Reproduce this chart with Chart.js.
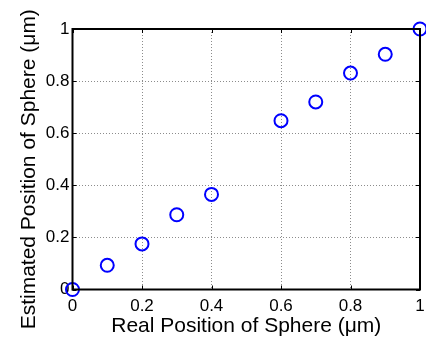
<!DOCTYPE html>
<html lang="en">
<head>
  <meta charset="UTF-8" />
  <title>Estimated vs Real Position</title>
  <script src="https://cdn.jsdelivr.net/npm/chart.js"></script>
  <style>
    html, body { margin: 0; padding: 0; background: #fff; }
    #wrap { width: 426px; height: 342px; }
  </style>
</head>
<body>
  <div id="wrap"><canvas id="chart"></canvas></div>

  <script>
    // data
    const realPos = [0, 0.1, 0.2, 0.3, 0.4, 0.6, 0.7, 0.8, 0.9, 1.0];
    const estPos = [0, 0.093, 0.175, 0.287, 0.365, 0.648, 0.72, 0.831, 0.903, 1.0];
    const xTicks = [0, 0.2, 0.4, 0.6, 0.8, 1];
    const yTicks = [0, 0.2, 0.4, 0.6, 0.8, 1];
    const xLabel = "Real Position of Sphere (μm)";
    const yLabel = "Estimated Position of Sphere (μm)";

    const font = "'Liberation Sans', Arial, sans-serif";

    // MATLAB-style box with inward ticks on all four sides, plus the y label
    // (MATLAB sets it a bit lower than the axis centre)
    const boxPlugin = {
      id: "box",
      afterDraw(chart) {
        const { ctx, chartArea: a, scales } = chart;
        ctx.save();
        ctx.strokeStyle = "#000";
        ctx.lineWidth = 1;
        const len = 4;
        ctx.beginPath();
        xTicks.forEach(v => {
          const px = Math.round(scales.x.getPixelForValue(v)) + 0.5;
          ctx.moveTo(px, a.bottom); ctx.lineTo(px, a.bottom - len);
          ctx.moveTo(px, a.top); ctx.lineTo(px, a.top + len);
        });
        yTicks.forEach(v => {
          const py = Math.round(scales.y.getPixelForValue(v)) + 0.5;
          ctx.moveTo(a.left, py); ctx.lineTo(a.left + len, py);
          ctx.moveTo(a.right, py); ctx.lineTo(a.right - len, py);
        });
        ctx.stroke();
        ctx.lineWidth = 2;
        ctx.strokeRect(a.left, a.top, a.right - a.left, a.bottom - a.top);

        ctx.translate(29, (a.top + a.bottom) / 2 + 10);
        ctx.rotate(-Math.PI / 2);
        ctx.fillStyle = "#000";
        ctx.font = "21px " + font;
        ctx.textAlign = "center";
        ctx.textBaseline = "middle";
        ctx.fillText(yLabel, 0, 0);
        ctx.restore();
      }
    };

    const gridOpts = {
      color: ctx => (ctx.tick && (ctx.tick.value === 0 || ctx.tick.value === 1)) ? "rgba(0,0,0,0)" : "#8c8c8c",
      lineWidth: 1,
      drawTicks: false
    };

    new Chart(document.getElementById("chart"), {
      type: "scatter",
      data: {
        datasets: [{
          data: realPos.map((x, i) => ({ x, y: estPos[i] })),
          showLine: false,
          pointStyle: "circle",
          pointRadius: 6.5,
          pointHoverRadius: 6.5,
          borderColor: "#0000ff",
          backgroundColor: "rgba(0,0,0,0)",
          borderWidth: 2,
          clip: false
        }]
      },
      options: {
        responsive: true,
        maintainAspectRatio: false,
        animation: false,
        events: [],
        layout: { autoPadding: false, padding: { top: 29, right: 6, left: 0, bottom: 0 } },
        plugins: {
          legend: { display: false },
          tooltip: { enabled: false }
        },
        scales: {
          x: {
            type: "linear",
            min: 0,
            max: 1,
            afterBuildTicks: s => { s.ticks = xTicks.map(v => ({ value: v })); },
            afterFit: s => { s.height = 52.5; s.paddingLeft = 0; s.paddingRight = 0; },
            grid: gridOpts,
            border: { display: false, dash: [1, 2] },
            ticks: {
              color: "#000",
              padding: 7,
              maxRotation: 0,
              font: { family: font, size: 17 },
              callback: v => String(v)
            },
            title: {
              display: true,
              text: xLabel,
              color: "#000",
              padding: { top: 0, bottom: 3 },
              font: { family: font, size: 21 }
            }
          },
          y: {
            type: "linear",
            min: 0,
            max: 1,
            afterBuildTicks: s => { s.ticks = yTicks.map(v => ({ value: v })); },
            afterFit: s => { s.width = 72.5; s.paddingTop = 0; s.paddingBottom = 0; },
            grid: gridOpts,
            border: { display: false, dash: [1, 2] },
            ticks: {
              color: "#000",
              padding: 3,
              font: { family: font, size: 17 },
              callback: v => String(v)
            },
            title: { display: false }
          }
        }
      },
      plugins: [boxPlugin]
    });
  </script>
</body>
</html>
